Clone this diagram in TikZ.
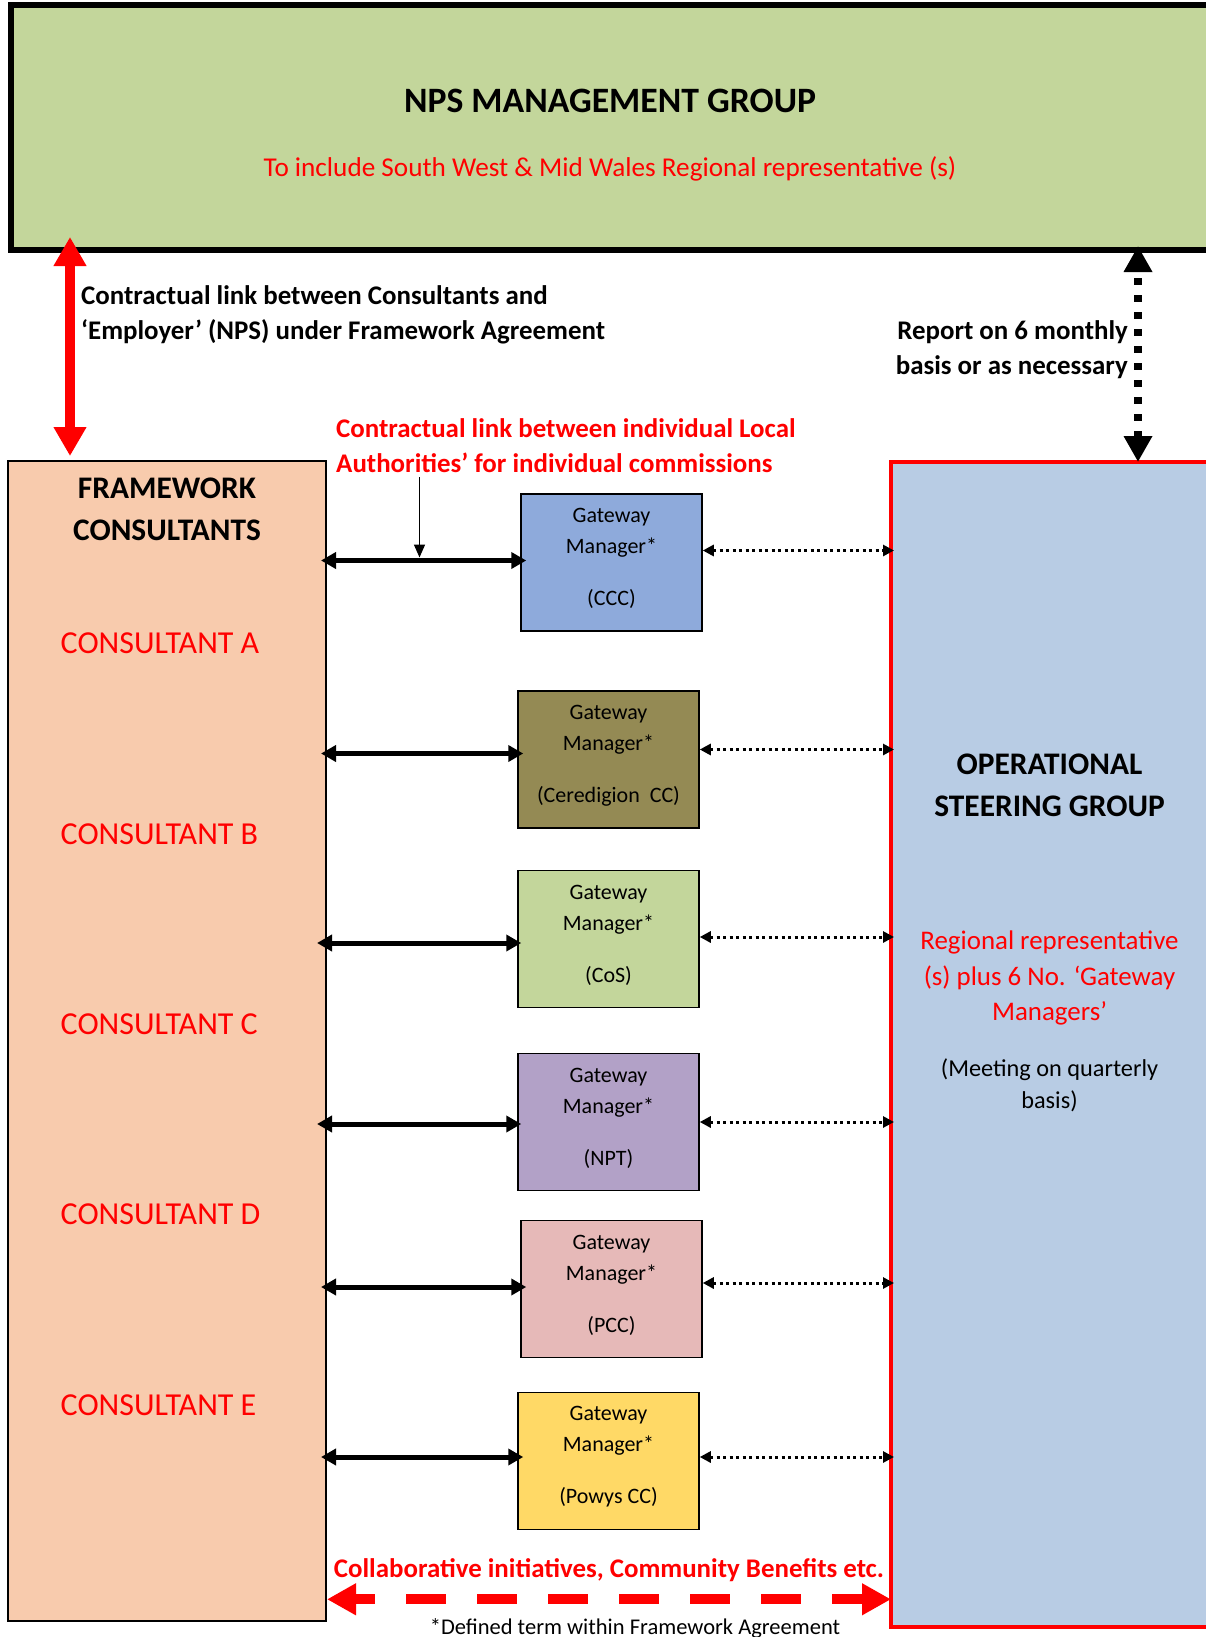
\documentclass[tikz,border=0pt]{standalone}
\usepackage{fontspec}
\setmainfont{Carlito}
\usetikzlibrary{arrows.meta, positioning}

\definecolor{npsgreen}{HTML}{C3D69B}
\definecolor{fwpeach}{HTML}{F8CBAD}
\definecolor{osgblue}{HTML}{B8CCE4}
\definecolor{cccblue}{HTML}{8EAADB}
\definecolor{cereolive}{HTML}{948A54}
\definecolor{cosgreen}{HTML}{C3D69B}
\definecolor{nptpurple}{HTML}{B2A1C7}
\definecolor{pccpink}{HTML}{E6B9B8}
\definecolor{powysgold}{HTML}{FFD966}

\tikzstyle{npsbox} = [rectangle, draw=black, line width=6pt, fill=npsgreen, minimum width=1209pt, minimum height=245pt]
\tikzstyle{fwbox} = [rectangle, draw=black, line width=2pt, fill=fwpeach, minimum width=318pt, minimum height=1160pt]
\tikzstyle{osgbox} = [rectangle, draw=red, line width=4pt, fill=osgblue, minimum width=340pt, minimum height=1165pt]
\tikzstyle{gateway} = [rectangle, draw=black, line width=1.5pt, minimum width=181pt, minimum height=137pt]
\tikzstyle{gwtext} = [align=center, inner sep=0pt, font=\fontsize{22}{31}\selectfont]
\tikzstyle{heading} = [align=center, inner sep=0pt, font=\fontsize{31.4}{42}\selectfont\bfseries]
\tikzstyle{consultant} = [anchor=west, inner sep=0pt, text=red, font=\fontsize{32}{42}\selectfont]
\tikzstyle{note} = [inner sep=0pt, font=\fontsize{26.9}{35.5}\selectfont\bfseries]
\tikzstyle{link} = [line width=5pt, {Triangle[length=15pt,width=16pt]}-{Triangle[length=15pt,width=16pt]}]
\tikzstyle{report} = [line width=3pt, dash pattern=on 3pt off 3.5pt, {Triangle[length=11pt,width=11pt]}-{Triangle[length=11pt,width=11pt]}]
\tikzstyle{pointer} = [line width=1.5pt, -{Triangle[length=13pt,width=11pt]}]
\tikzstyle{contract} = [red, line width=10pt, {Triangle[length=29pt,width=31pt]}-{Triangle[length=29pt,width=31pt]}]
\tikzstyle{sixmonth} = [line width=8pt, dash pattern=on 7pt off 10pt, {Triangle[length=26pt,width=27pt]}-{Triangle[length=26pt,width=27pt]}]
\tikzstyle{collab} = [red, line width=10pt, dash pattern=on 40pt off 31pt, dash phase=19pt, {Triangle[length=29pt,width=30pt]}-{Triangle[length=29pt,width=30pt]}]

\begin{document}
\begin{tikzpicture}[x=1pt, y=-1pt, node distance=67.5pt]
\useasboundingbox (0,0) rectangle (1206,1637);

% management group
\node (nps) [npsbox] at (615.5,127.5) {};
\node (title) [inner sep=0pt, font=\fontsize{35.7}{42}\selectfont\bfseries] at (610,101) {NPS MANAGEMENT GROUP};
\node (sub) [inner sep=0pt, text=red, font=\fontsize{27.2}{35.5}\selectfont, below of=title] {To include South West \& Mid Wales Regional representative (s)};

% the two big columns
\node (fw) [fwbox] at (167,1041) {};
\node (osg) [osgbox] at (1061,1044.5) {};

\node (fwhead) [heading] at (167,509.5) {FRAMEWORK\\CONSULTANTS};
\node (consa) [consultant] at (60.5,643) {CONSULTANT A};
\node (consb) [consultant] at (60.5,834) {CONSULTANT B};
\node (consc) [consultant] at (60.5,1024) {CONSULTANT C};
\node (consd) [consultant] at (60.5,1214) {CONSULTANT D};
\node (conse) [consultant] at (60.5,1405) {CONSULTANT E};

\node (osghead) [heading] at (1049.5,785.5) {OPERATIONAL\\STEERING GROUP};
\node (osgreps) [align=center, inner sep=0pt, text=red, font=\fontsize{26.9}{35.5}\selectfont] at (1049.5,978) {Regional representative\\(s) plus 6 No. ‘Gateway\\Managers’};
\node (osgmeet) [align=center, inner sep=0pt, font=\fontsize{24.3}{32.4}\selectfont] at (1049.5,1085) {(Meeting on quarterly\\basis)};

% gateway managers
\node (ccc) [gateway, fill=cccblue] at (611.5,562.5) {};
\node (ccct) [gwtext] at ([yshift=4pt]ccc.center) {Gateway\\Manager*\\[21pt](CCC)};
\node (cere) [gateway, fill=cereolive] at (608.5,759.5) {};
\node (ceret) [gwtext] at ([yshift=4pt]cere.center) {Gateway\\Manager*\\[21pt](Ceredigion\ \ CC)};
\node (cos) [gateway, fill=cosgreen] at (608.5,939) {};
\node (cost) [gwtext] at ([yshift=4pt]cos.center) {Gateway\\Manager*\\[21pt](CoS)};
\node (npt) [gateway, fill=nptpurple] at (608.5,1122) {};
\node (nptt) [gwtext] at ([yshift=4pt]npt.center) {Gateway\\Manager*\\[21pt](NPT)};
\node (pcc) [gateway, fill=pccpink] at (611.5,1289) {};
\node (pcct) [gwtext] at ([yshift=4pt]pcc.center) {Gateway\\Manager*\\[21pt](PCC)};
\node (powys) [gateway, fill=powysgold] at (608.5,1461) {};
\node (powyst) [gwtext] at ([yshift=4pt]powys.center) {Gateway\\Manager*\\[21pt](Powys CC)};

% labels
\node (contract) [note, anchor=west, align=left] at (81,315) {Contractual link between Consultants and\\‘Employer’ (NPS) under Framework Agreement};
\node (report) [note, anchor=east, align=right] at (1128,349.5) {Report on 6 monthly\\basis or as necessary};
\node (lalink) [note, anchor=west, align=left, text=red] at (336,445.5) {Contractual link between individual Local\\Authorities’ for individual commissions};
\node (collab) [note, text=red] at (609,1570.5) {Collaborative initiatives, Community Benefits etc.};
\node (defined) [inner sep=0pt, font=\fontsize{22.5}{27}\selectfont] at (635,1628) {*Defined term within Framework Agreement};

% links to the management group
\draw [contract] ([xshift=-97pt,yshift=4pt]fw.north) -- ([xshift=-97pt,yshift=16pt]fw.north |- nps.south);
\draw [sixmonth] ([xshift=77pt,yshift=-2pt]osg.north) -- ([xshift=77pt,yshift=7pt]osg.north |- nps.south);

% consultants <-> gateway managers
\draw [pointer] ([xshift=83.5pt,yshift=-4.5pt]lalink.south west) -- ([xshift=83.5pt,yshift=5pt]lalink.south west |- ccc.west);
\draw [link] ([xshift=-6pt,yshift=2pt]fw.east |- ccc.west) -- ([xshift=6pt,yshift=2pt]ccc.west);
\draw [link] ([xshift=-6pt,yshift=6pt]fw.east |- cere.west) -- ([xshift=6pt,yshift=6pt]cere.west);
\draw [link] ([xshift=-10pt,yshift=-4pt]fw.east |- cos.west) -- ([xshift=4pt,yshift=-4pt]cos.west);
\draw [link] ([xshift=-10pt,yshift=-2pt]fw.east |- npt.west) -- ([xshift=4pt,yshift=-2pt]npt.west);
\draw [link] ([xshift=-6pt,yshift=2pt]fw.east |- pcc.west) -- ([xshift=6pt,yshift=2pt]pcc.west);
\draw [link] ([xshift=-6pt,yshift=4pt]fw.east |- powys.west) -- ([xshift=6pt,yshift=4pt]powys.west);

% gateway managers <-> steering group
\draw [report] ([yshift=12pt]ccc.east) -- ([xshift=5pt,yshift=12pt]osg.west |- ccc.east);
\draw [report] ([yshift=10pt]cere.east) -- ([xshift=5pt,yshift=10pt]osg.west |- cere.east);
\draw [report] ([yshift=2pt]cos.east) -- ([xshift=5pt,yshift=2pt]osg.west |- cos.east);
\draw [report] (npt.east) -- ([xshift=5pt]osg.west |- npt.east);
\draw [report] ([yshift=6pt]pcc.east) -- ([xshift=5pt,yshift=6pt]osg.west |- pcc.east);
\draw [report] ([yshift=4pt]powys.east) -- ([xshift=5pt,yshift=4pt]osg.west |- powys.east);

% collaboration between the columns
\draw [collab] ([yshift=-17pt]fw.east |- collab.south) -- ([xshift=2pt,yshift=-17pt]osg.west |- collab.south);

\end{tikzpicture}
\end{document}
